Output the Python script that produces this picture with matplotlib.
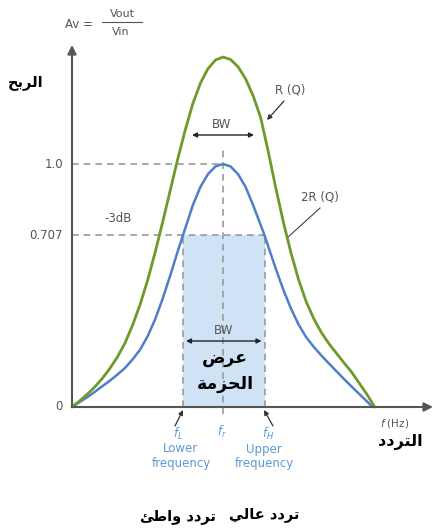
import matplotlib
matplotlib.use("Agg")
import matplotlib.pyplot as plt

# Frequency response of a series resonant circuit (frequency normalised to f / fr)
freq_r = [0.0, 0.05, 0.10, 0.15, 0.20, 0.25, 0.30, 0.35, 0.40, 0.45, 0.50, 0.55,
          0.60, 0.65, 0.70, 0.75, 0.80, 0.85, 0.90, 0.95, 1.0,
          1.05, 1.10, 1.15, 1.20, 1.25, 1.30, 1.35, 1.40, 1.45, 1.50, 1.55, 1.60,
          1.65, 1.70, 1.75, 1.80, 1.85, 1.90, 1.95, 2.005]
gain_r = [0.0, 0.025, 0.052, 0.082, 0.117, 0.158, 0.205, 0.262, 0.335, 0.42, 0.52, 0.635,
          0.76, 0.89, 1.02, 1.14, 1.248, 1.332, 1.392, 1.428, 1.44,
          1.43, 1.40, 1.35, 1.28, 1.19, 1.05, 0.90, 0.76, 0.635, 0.525, 0.435, 0.365,
          0.308, 0.262, 0.222, 0.183, 0.145, 0.10, 0.055, 0.0]

freq_2r = [0.0, 0.05, 0.10, 0.15, 0.20, 0.25, 0.30, 0.35, 0.40, 0.45, 0.50, 0.55,
           0.60, 0.65, 0.70, 0.735, 0.80, 0.85, 0.90, 0.95, 1.0,
           1.05, 1.10, 1.15, 1.20, 1.275, 1.30, 1.35, 1.40, 1.45, 1.50, 1.55, 1.60,
           1.65, 1.70, 1.75, 1.80, 1.85, 1.90, 1.95, 1.99]
gain_2r = [0.0, 0.02, 0.04, 0.062, 0.085, 0.108, 0.133, 0.16, 0.195, 0.235, 0.29, 0.36,
           0.445, 0.54, 0.64, 0.707, 0.83, 0.905, 0.958, 0.99, 1.0,
           0.99, 0.958, 0.905, 0.83, 0.707, 0.66, 0.568, 0.482, 0.405, 0.34, 0.288, 0.248,
           0.213, 0.18, 0.148, 0.116, 0.085, 0.055, 0.025, 0.0]

f_low, f_res, f_high = 0.735, 1.0, 1.275
gain_unity = 1.0
gain_3db = 0.707
tick_values = [0.0, 0.707, 1.0]
tick_labels = ["0", "0.707", "1.0"]

# --- minimal Arabic contextual shaping (presentation forms, visual order) ---
FORMS = {  # isolated, final, initial, medial
    "ا": ("\uFE8D", "\uFE8E", None, None),
    "ل": ("\uFEDD", "\uFEDE", "\uFEDF", "\uFEE0"),
    "ر": ("\uFEAD", "\uFEAE", None, None),
    "ب": ("\uFE8F", "\uFE90", "\uFE91", "\uFE92"),
    "ح": ("\uFEA1", "\uFEA2", "\uFEA3", "\uFEA4"),
    "ت": ("\uFE95", "\uFE96", "\uFE97", "\uFE98"),
    "د": ("\uFEA9", "\uFEAA", None, None),
    "و": ("\uFEED", "\uFEEE", None, None),
    "ط": ("\uFEC1", "\uFEC2", "\uFEC3", "\uFEC4"),
    "ئ": ("\uFE89", "\uFE8A", "\uFE8B", "\uFE8C"),
    "ع": ("\uFEC9", "\uFECA", "\uFECB", "\uFECC"),
    "ي": ("\uFEF1", "\uFEF2", "\uFEF3", "\uFEF4"),
    "ض": ("\uFEBD", "\uFEBE", "\uFEBF", "\uFEC0"),
    "ز": ("\uFEAF", "\uFEB0", None, None),
    "م": ("\uFEE1", "\uFEE2", "\uFEE3", "\uFEE4"),
    "ة": ("\uFE93", "\uFE94", None, None),
}


def shape(text):
    """Contextual forms + right-to-left visual order for a short Arabic label."""
    out = []
    for i, c in enumerate(text):
        if c not in FORMS:
            out.append(c)
            continue
        prev = text[i - 1] if i > 0 else None
        nxt = text[i + 1] if i + 1 < len(text) else None
        join_prev = prev in FORMS and FORMS[prev][2] is not None
        join_next = nxt in FORMS and FORMS[c][2] is not None
        iso, fin, ini, med = FORMS[c]
        if join_prev and join_next:
            out.append(med)
        elif join_prev:
            out.append(fin)
        elif join_next:
            out.append(ini)
        else:
            out.append(iso)
    return "".join(reversed(out))


GREEN = "#6e9a2c"
BLUE = "#4f7fc6"
LIGHT = "#5b9bd5"
GREY = "#555555"
DASH = "#9a9a9a"
FILL = "#cfe2f6"

fig = plt.figure(figsize=(4.35, 5.30), dpi=100)
ax = fig.add_axes([0, 0, 1, 1])

# page layout: origin 72 px from left, 407 px from top; 151 px per fr, 243 px per unit gain
X0, Y0, SX, SY = 72.0, 407.0, 151.0, 243.0


def P(x, y):
    return (x - X0) / SX, (Y0 - y) / SY


ax.set_xlim(P(0, 0)[0], P(435, 0)[0])
ax.set_ylim(P(0, 530)[1], P(0, 0)[1])
ax.axis("off")

# pass band
ax.fill_between([f_low, f_high], 0, gain_3db, color=FILL, lw=0, zorder=1)

dash = dict(color=DASH, lw=1.2, ls=(0, (4, 3)), zorder=2)
ax.plot([0, f_res], [gain_unity, gain_unity], **dash)
ax.plot([0, f_high], [gain_3db, gain_3db], **dash)
ax.plot([f_low, f_low], [0, gain_3db], **dash)
ax.plot([f_high, f_high], [0, gain_3db], **dash)
ax.plot([f_res, f_res], [P(0, 414)[1], P(0, 150)[1]], **dash)

ax.plot(freq_r, gain_r, color=GREEN, lw=2.0, zorder=4,
        solid_capstyle="round", solid_joinstyle="round")
ax.plot(freq_2r, gain_2r, color=BLUE, lw=1.8, zorder=3,
        solid_capstyle="round", solid_joinstyle="round")

# axes with arrow heads
arr = dict(arrowstyle="-|>", color=GREY, lw=1.5, mutation_scale=13, shrinkA=0, shrinkB=0)
ax.annotate("", xy=P(72, 45), xytext=(0, 0), arrowprops=arr, zorder=5)
ax.annotate("", xy=P(433, 407), xytext=(0, 0), arrowprops=arr, zorder=5)

# gain axis labels
for v, lab in zip(tick_values, tick_labels):
    ax.text(P(63, 0)[0], v, lab, ha="right", va="center", fontsize=8.5, color=GREY)
ax.text(*P(118, 219), "-3dB", ha="center", va="center", fontsize=8.5, color=GREY)

# Av = Vout / Vin
ax.text(*P(79, 25), "Av =", ha="center", va="center", fontsize=8.5, color=GREY)
ax.text(*P(122, 14), "Vout", ha="center", va="center", fontsize=8, color=GREY)
ax.text(*P(121, 32), "Vin", ha="center", va="center", fontsize=8, color=GREY)
ax.plot(*zip(P(102, 22), P(142, 22)), color=GREY, lw=0.8)

ax.text(*P(26, 82), shape("الربح"), ha="center", va="center", fontsize=10.5,
        fontweight="bold", color="black")

# bandwidth arrows
bw = dict(arrowstyle="<|-|>", color="#222222", lw=1.0, mutation_scale=7, shrinkA=0, shrinkB=0)
ax.annotate("", xy=P(192, 135), xytext=P(254, 135), arrowprops=bw, zorder=6)
ax.text(*P(222, 125), "BW", ha="center", va="center", fontsize=8.5, color=GREY)
ax.annotate("", xy=(f_low + 0.02, P(0, 341)[1]), xytext=(f_high - 0.02, P(0, 341)[1]),
            arrowprops=bw, zorder=6)
ax.text(*P(224, 330), "BW", ha="center", va="center", fontsize=8.5, color=GREY)
ax.text(*P(225, 358), shape("عرض"), ha="center", va="center", fontsize=12.5,
        fontweight="bold", color="black")
ax.text(*P(225, 384), shape("الحزمة"), ha="center", va="center", fontsize=12.5,
        fontweight="bold", color="black")

# curve labels
ax.text(*P(290, 90), "R (Q)", ha="center", va="center", fontsize=8.5, color=GREY)
ax.annotate("", xy=P(267, 120), xytext=P(284, 101),
            arrowprops=dict(arrowstyle="-|>", color="#333333", lw=0.9, mutation_scale=7,
                            shrinkA=0, shrinkB=0))
ax.text(*P(320, 197), "2R (Q)", ha="center", va="center", fontsize=8.5, color=GREY)
ax.plot(*zip(P(320, 208), P(287, 238)), color="#444444", lw=0.8)

# frequency axis labels
ax.text(*P(395, 423), "$f$ (Hz)", ha="center", va="center", fontsize=7.5, color=GREY)
ax.text(*P(400, 442), shape("التردد"), ha="center", va="center", fontsize=11.5,
        fontweight="bold", color="black")

ax.text(*P(178, 434), "$f_L$", ha="center", va="center", fontsize=8.5, color=LIGHT)
ax.text(*P(222, 432), "$f_r$", ha="center", va="center", fontsize=8.5, color=LIGHT)
ax.text(*P(268, 434), "$f_H$", ha="center", va="center", fontsize=8.5, color=LIGHT)

sm = dict(arrowstyle="-|>", color="#333333", lw=0.9, mutation_scale=7, shrinkA=0, shrinkB=0)
ax.annotate("", xy=P(183, 410), xytext=P(175, 426), arrowprops=sm)
ax.annotate("", xy=P(264, 410), xytext=P(273, 426), arrowprops=sm)

ax.text(*P(181, 449), "Lower", ha="center", va="center", fontsize=8.5, color=LIGHT)
ax.text(*P(181, 464), "frequency", ha="center", va="center", fontsize=8.5, color=LIGHT)
ax.text(*P(264, 449), "Upper", ha="center", va="center", fontsize=8.5, color=LIGHT)
ax.text(*P(264, 464), "frequency", ha="center", va="center", fontsize=8.5, color=LIGHT)

ax.text(*P(178, 517), shape("تردد واطئ"), ha="center", va="center", fontsize=10.5,
        fontweight="bold", color="black")
ax.text(*P(264, 515), shape("تردد عالي"), ha="center", va="center", fontsize=10.5,
        fontweight="bold", color="black")

fig.savefig("out.png", dpi=100)
